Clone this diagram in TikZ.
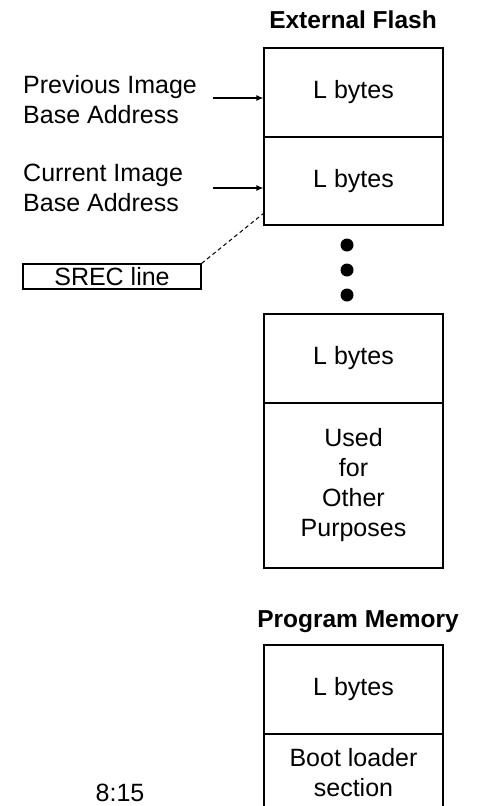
\documentclass[tikz,border=0pt]{standalone}
\usepackage{fontspec}
\setmainfont{Liberation Sans}
\usetikzlibrary{arrows.meta}
\tikzset{
	membox/.style={draw,line width=1.2pt,minimum width=179pt,inner sep=0pt,align=center},
	memtitle/.style={font=\fontsize{24.5}{30}\selectfont\bfseries},
	addrlabel/.style={anchor=west,align=left,inner sep=0pt},
	dotmark/.style={fill,circle,inner sep=0pt,minimum size=13pt},
	ptr/.style={line width=1.2pt,-{Latex[length=7pt,width=6pt]}}
}
\begin{document}
\begin{tikzpicture}[x=1pt,y=-1pt,font=\fontsize{25}{30}\selectfont]
			\useasboundingbox (0,0) rectangle (477,806);
			\clip (0,0) rectangle (477,806);
			
			\node[memtitle] (flashtitle) at (353,20) {External Flash};
			\node[membox,minimum height=89pt] (flash1) at (353.5,92.5) {L bytes};
			\node[membox,minimum height=88pt] (flash2) at (353.5,181) {L bytes};
			\node[membox,minimum height=89pt] (flash3) at (353.5,358.5) {L bytes};
			\node[membox,minimum height=165pt] (flash4) at (353.5,485.5) {Used\\for\\Other\\Purposes};
			
			\node[dotmark] (dot1) at (347,245) {};
			\node[dotmark] (dot2) at (347,270) {};
			\node[dotmark] (dot3) at (347,295) {};
			
			\node[addrlabel] (prevaddr) at (23,100) {Previous Image\\Base Address};
			\node[addrlabel] (curraddr) at (23,188) {Current Image\\Base Address};
			\coordinate (prevstart) at (213,98);
			\coordinate (currstart) at (213,188);
			\draw[ptr] (prevstart) -- (prevstart -| flash1.west);
			\draw[ptr] (currstart) -- (currstart -| flash2.west);
			
			\node[draw,line width=1.2pt,minimum width=178pt,minimum height=25pt,inner sep=0pt] (srec) at (112,276.5) {SREC line};
			\coordinate (srecend) at (264,213);
			\draw[line width=1pt,dash pattern=on 4pt off 3pt] (srec.north east) -- (srecend);
			
			\node[memtitle] (progtitle) at (358,622) {Program Memory};
			\node[membox,minimum height=89pt] (prog1) at (353.5,689.5) {L bytes};
			\node[membox,minimum height=78pt] (prog2) at (353.5,773) {Boot loader\\section};
			
			\node (pagenum) at (120,793) {8:15};
\end{tikzpicture}
\end{document}
